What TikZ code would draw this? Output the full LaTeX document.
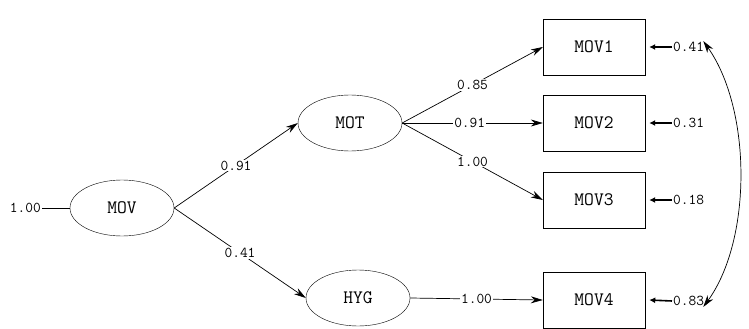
\documentclass[tikz,border=0pt]{standalone}
\usetikzlibrary{arrows.meta,shapes.geometric}
\begin{document}
\begin{tikzpicture}[x=1pt,y=-1pt,
  lat/.style={draw,ellipse,minimum width=104pt,minimum height=56pt,inner sep=0pt,font=\ttfamily\fontsize{19}{21}\selectfont},
  obs/.style={draw,rectangle,minimum width=102pt,minimum height=56pt,inner sep=0pt,font=\ttfamily\fontsize{19}{21}\selectfont},
  num/.style={font=\ttfamily\fontsize{15}{17}\selectfont,inner sep=1pt},
  lbl/.style={num,fill=white},
  path/.style={line width=0.7pt,-{Stealth[length=12pt,width=7pt]}},
  err/.style={line width=1.6pt,-{Latex[length=6pt,width=6pt]}}]
\useasboundingbox (0,0) rectangle (749,329);
\node[lat] (mov) at (122,208) {MOV};
\node[lat] (mot) at (350,123) {MOT};
\node[lat] (hyg) at (358,298) {HYG};
\node[obs] (m1) at (594,47) {MOV1};
\node[obs] (m2) at (594,123) {MOV2};
\node[obs] (m3) at (594,200) {MOV3};
\node[obs] (m4) at (594,300) {MOV4};
\node[num,anchor=east] (d0) at (42,208) {1.00};
\draw[line width=0.7pt] (d0) -- (mov.west);
\draw[path] (mov.east) -- node[lbl] {0.91} (mot.west);
\draw[path] (mov.east) -- node[lbl] {0.41} (hyg.west);
\draw[path] (mot.east) -- node[lbl] {0.85} (m1.west);
\draw[path] (mot.east) -- node[lbl,pos=0.48] {0.91} (m2.west);
\draw[path] (mot.east) -- node[lbl] {1.00} (m3.west);
\draw[path] (hyg.east) -- node[lbl] {1.00} (m4.west);
\node[num,anchor=west] (e1) at (672,47) {0.41};
\node[num,anchor=west] (e2) at (672,123) {0.31};
\node[num,anchor=west] (e3) at (672,200) {0.18};
\node[num,anchor=west] (e4) at (672,301) {0.83};
\draw[err] (e1.west) -- ([xshift=4pt]m1.east);
\draw[err] (e2.west) -- ([xshift=4pt]m2.east);
\draw[err] (e3.west) -- ([xshift=4pt]m3.east);
\draw[err] (e4.west) -- ([xshift=4pt]m4.east);
\draw[line width=0.7pt,{Stealth[length=12pt,width=7pt]}-{Stealth[length=12pt,width=7pt]}] ([xshift=-2pt]e1.north east) .. controls (752,110) and (752,240) .. ([xshift=-2pt]e4.south east);
\end{tikzpicture}
\end{document}
